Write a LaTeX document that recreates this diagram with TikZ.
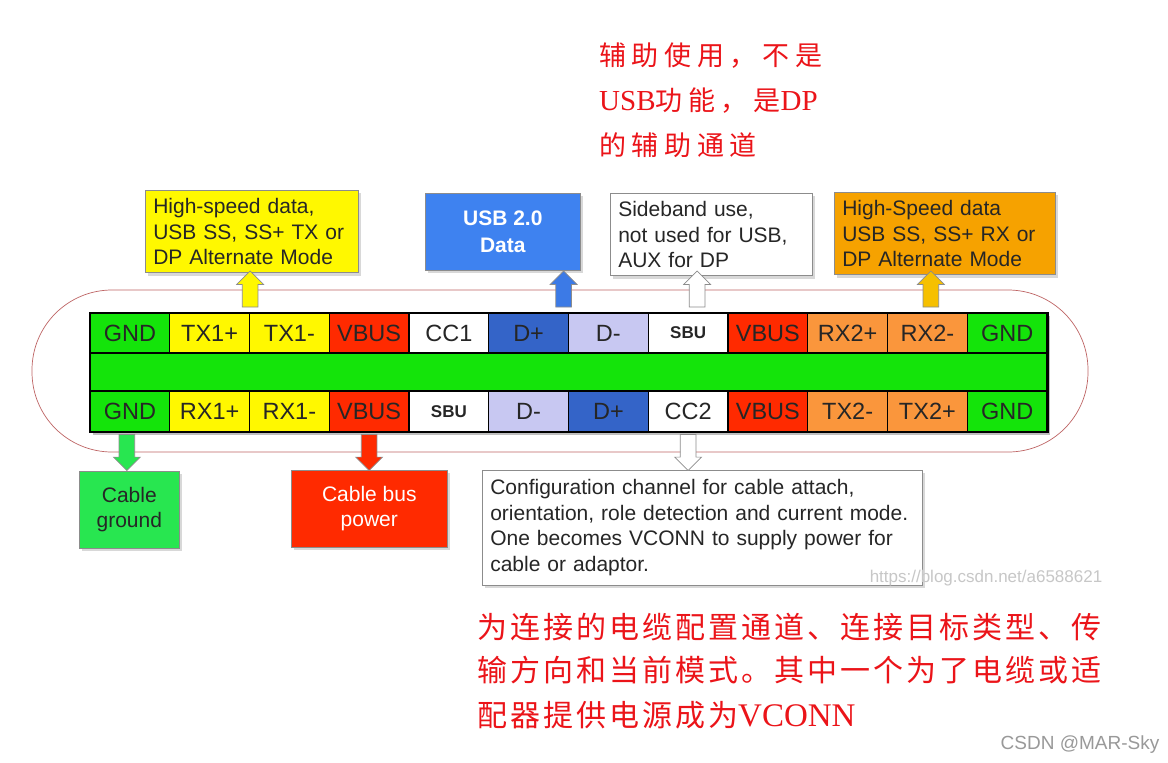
\documentclass[tikz,border=0pt]{standalone}
\usepackage{fontspec}
\setmainfont{Liberation Sans}
\newfontfamily\cjkA[LetterSpace=21]{Noto Sans CJK SC}
\newfontfamily\cjkB[LetterSpace=10]{Noto Sans CJK SC}
\newfontfamily\lserif{Liberation Serif}
\usepackage{tikz}
\usetikzlibrary{shapes.arrows,shadows,calc}
\definecolor{pgreen}{RGB}{20,228,10}
\definecolor{pyellow}{RGB}{255,248,0}
\definecolor{pred}{RGB}{255,42,0}
\definecolor{pblue}{RGB}{52,100,200}
\definecolor{plav}{RGB}{200,200,242}
\definecolor{porange}{RGB}{250,150,60}
\definecolor{cblue}{RGB}{62,130,240}
\definecolor{corange}{RGB}{246,162,0}
\definecolor{cgreen}{RGB}{40,230,80}
\definecolor{ablue}{RGB}{60,122,230}
\definecolor{agold}{RGB}{246,192,0}
\definecolor{plugline}{RGB}{190,100,100}
\definecolor{cnred}{RGB}{235,20,25}
\newcommand{\sbulab}{{\fontsize{17}{20}\selectfont\bfseries SBU}}
\newcommand{\lat}[2]{{\lserif\fontsize{#1}{#1}\selectfont #2}}
\tikzset{
  pin/.style={draw=black, line width=1.2pt, minimum width=79.75pt, minimum height=40pt, inner sep=0pt, font=\fontsize{23.5}{26}\selectfont, text=black!85},
  band/.style={draw=black, line width=1.2pt, fill=pgreen, minimum width=957pt, minimum height=38pt},
  note/.style={draw=black!45, line width=0.6pt, inner sep=8pt, anchor=north west, font=\fontsize{21}{25.5}\selectfont, text=black!85,
    drop shadow={shadow xshift=3pt, shadow yshift=-3pt, opacity=0.3}},
  arr/.style={single arrow, draw=black!45, line width=0.7pt, inner xsep=0pt, inner ysep=7.5pt, minimum width=0pt, single arrow head extend=5.5pt, anchor=tail},
  uparr/.style={arr, rotate=90, minimum height=36pt},
  dnarr/.style={arr, rotate=-90, minimum height=36pt},
  cntop/.style={text=cnred, anchor=base west, inner sep=0pt, font=\cjkA\fontsize{27}{27}\selectfont},
  cnbot/.style={text=cnred, anchor=base west, inner sep=0pt, font=\cjkB\fontsize{30}{30}\selectfont},
  wmark/.style={inner sep=0pt, font=\fontsize{17}{17}\selectfont}
}
\begin{document}
\begin{tikzpicture}[x=1pt, y=-1pt]
\useasboundingbox[fill=white] (0,0) rectangle (1168,763);
\draw[plugline, line width=0.7pt, rounded corners=80pt] (32,290) rectangle (1088,452);
\fill[black!25] (93,316) rectangle (1050,435);
\foreach \lab/\col [count=\i] in {GND/pgreen, TX1+/pyellow, TX1-/pyellow, VBUS/pred, CC1/white, D+/pblue, D-/plav, \sbulab/white, VBUS/pred, RX2+/porange, RX2-/porange, GND/pgreen}
  \node[pin, fill=\col] (t\i) at ({90+(\i-0.5)*79.75}, 333) {\lab};
\node[band] (mid) at (568.5,372) {};
\foreach \lab/\col [count=\i] in {GND/pgreen, RX1+/pyellow, RX1-/pyellow, VBUS/pred, \sbulab/white, D-/plav, D+/pblue, CC2/white, VBUS/pred, TX2-/porange, TX2+/porange, GND/pgreen}
  \node[pin, fill=\col] (b\i) at ({90+(\i-0.5)*79.75}, 411.5) {\lab};
\draw[line width=1.8pt] (t1.north west) rectangle (b12.south east);

\node[note, fill=pyellow, minimum width=213pt, minimum height=78pt, text width=197pt, align=left] (hsTX) at (145,190)
  {High-speed data,\\USB SS, SS+ TX or\\DP Alternate Mode};
\node[note, fill=cblue, text=white, font=\fontsize{21}{26.5}\selectfont\bfseries, align=center, minimum width=155pt, minimum height=77pt] (usb2) at (425,193)
  {USB 2.0\\Data};
\node[note, fill=white, minimum width=202pt, minimum height=78pt, text width=186pt, align=left] (sideband) at (610,193)
  {Sideband use,\\not used for USB,\\AUX for DP};
\node[note, fill=corange, minimum width=221pt, minimum height=77pt, text width=205pt, align=left] (hsRX) at (834,192)
  {High-Speed data\\USB SS, SS+ RX or\\DP Alternate Mode};
\node[note, fill=cgreen, align=center, minimum width=100pt, minimum height=77pt] (gndnote) at (79,471)
  {Cable\\ground};
\node[note, fill=pred, text=white, align=center, minimum width=156pt, minimum height=77pt] (busnote) at (291,470)
  {Cable bus\\power};
\node[note, fill=white, minimum width=440pt, minimum height=115pt, text width=424pt, align=left] (ccnote) at (482,470)
  {Configuration channel for cable attach,\\orientation, role detection and current mode.\\One becomes VCONN to supply power for\\cable or adaptor.};

\node[uparr, fill=pyellow] (aTX) at ($(t2.north east)+(0,-5)$) {};
\node[uparr, fill=ablue] (aUSB) at ($(t6.north east)+(-5.5,-5)$) {};
\node[uparr, fill=white] (aSBU) at ($(t8.north)+(9,-5)$) {};
\node[uparr, fill=agold] (aRX) at ($(t11.north)+(3.5,-5)$) {};
\node[dnarr, fill=cgreen] (aGND) at ($(b1.south)+(-3,2)$) {};
\node[dnarr, fill=pred] (aVBUS) at ($(b4.south)+(0,2)$) {};
\node[dnarr, fill=white] (aCC) at ($(b8.south)+(0,2)$) {};

\node[cntop] (sbuA) at (599,65) {辅助使用，不是};
\node[cntop] (sbuB) at (599,110) {\lat{29}{USB}功能，是\lat{29}{DP}};
\node[cntop] (sbuC) at (599,155) {的辅助通道};
\node[cnbot] (ccA) at (477,638) {为连接的电缆配置通道、连接目标类型、传};
\node[cnbot] (ccB) at (477,681) {输方向和当前模式。其中一个为了电缆或适};
\node[cnbot] (ccC) at (477,726) {配器提供电源成为\lat{33}{VCONN}};

\node[wmark, text=black!22] (wmA) at (986,578) {https://blog.csdn.net/a6588621};
\node[wmark, text=black!40, font=\fontsize{19}{19}\selectfont] (wmB) at (1080,745) {CSDN @MAR-Sky};
\end{tikzpicture}
\end{document}
